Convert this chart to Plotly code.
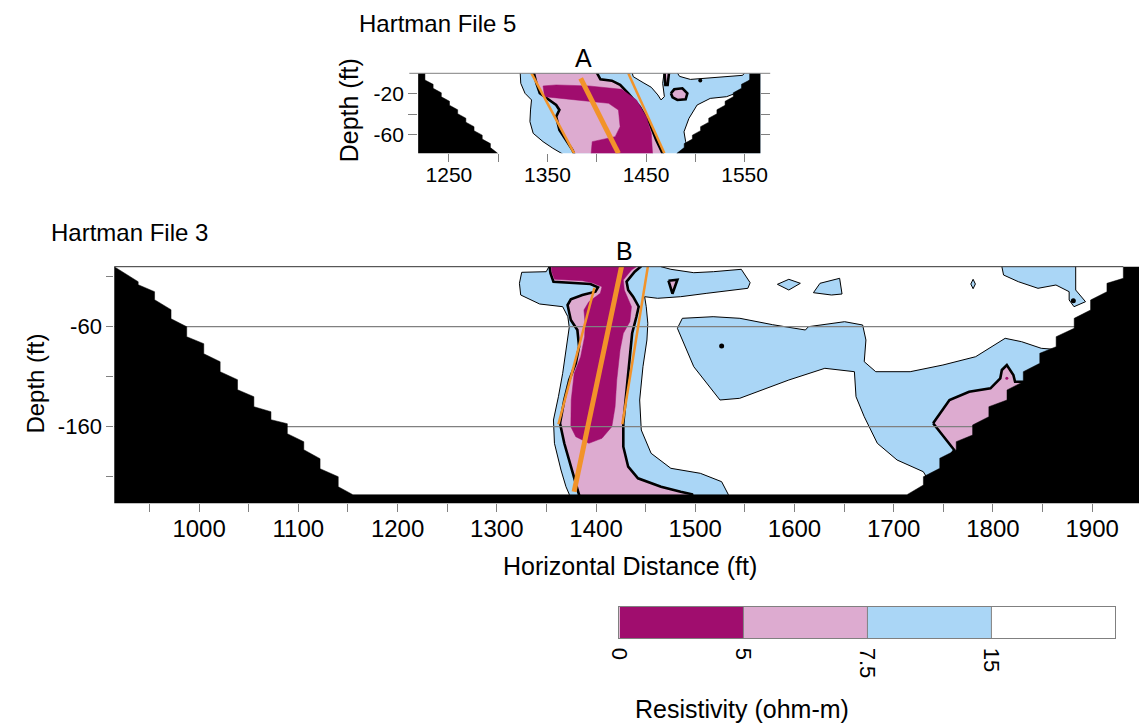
import plotly.graph_objects as go

W, H = 1146, 723
FONT = "Liberation Sans, Arial, sans-serif"

C_PURPLE = "#A00D6E"
C_PINK = "#DDABD0"
C_BLUE = "#AAD6F6"
C_WHITE = "#FFFFFF"
C_ORANGE = "#F2932A"
C_GRAY = "#808080"

# ---------------- legend classes (resistivity, ohm-m) ----------------
res_levels = [0, 5, 7.5, 15]
res_labels = ["0", "5", "7.5", "15"]
res_colors = [C_PURPLE, C_PINK, C_BLUE, C_WHITE]

# ---------------- Hartman File 5 (top section) ----------------
f5_xrange = [1218.8, 1566.0]
f5_yrange = [-78.4, 0.0]
f5_xticks = [1250, 1300, 1350, 1400, 1450, 1500, 1550]
f5_xticklabels = ["1250", "", "1350", "", "1450", "", "1550"]
f5_yticks = [-20, -40, -60]
f5_yticklabels = ["-20", "", "-60"]

# 7.5-15 ohm-m zone
f5_blue_x = [1322.2, 1322.2, 1322.9, 1327.2, 1333.8, 1332.8, 1332.2, 1335.5, 1345.5, 1355.5, 1365.4, 1366.0, 1575.0, 1575.0]
f5_blue_y = [3, 0, -9.8, -19.6, -26.1, -35.9, -47.4, -58.8, -67.0, -73.5, -79.1, -85, -85, 3]
# >15 ohm-m pockets inside the blue zone
f5_white1_x = [1435.3, 1437.0, 1447.0, 1455.3, 1462.0, 1465.2, 1468.6, 1466.9, 1468.6]
f5_white1_y = [3, -3.3, -9.1, -13.7, -21.2, -26.1, -22.9, -9.8, 3]
f5_white2_x = [1480.0, 1484.0, 1495.0, 1510.0, 1530.0, 1548.0, 1552.0]
f5_white2_y = [3, -3.0, -6.0, -5.0, -3.5, -2.0, 3]
f5_white3_x = [1560.0, 1555.1, 1546.7, 1531.8, 1515.1, 1501.8, 1493.5, 1488.5, 1490.2, 1491.9, 1560.0]
f5_white3_y = [-6.6, -6.6, -17.4, -22.9, -24.6, -31.1, -44.2, -57.3, -67.1, -72.0, -72.0]
# 5-7.5 ohm-m zone
f5_pink_x = [1335.5, 1338.8, 1342.2, 1358.8, 1362.1, 1358.8, 1362.1, 1370.4, 1375.4, 1379.5, 1470.0, 1460.3, 1453.6, 1443.6, 1432.0, 1423.7, 1415.3, 1403.7, 1398.7]
f5_pink_y = [3, -9.8, -19.6, -31.0, -35.9, -42.5, -55.5, -67.0, -75.2, -85, -85, -65.4, -49.0, -32.7, -19.6, -11.4, -7.2, -5.9, 3]
f5_pink2_x = [1475.2, 1478.6, 1486.9, 1491.9, 1490.2, 1481.8, 1476.9]
f5_pink2_y = [-19.6, -15.7, -14.7, -19.6, -25.5, -26.1, -23.5]
f5_pink3_x = [1468.6, 1473.6, 1471.9, 1469.6]
f5_pink3_y = [3, 3, -11.4, -11.4]
# 0-5 ohm-m zone
f5_purple_x = [1345.5, 1358.8, 1392.0, 1425.3, 1440.3, 1450.3, 1455.3, 1457.0, 1393.7, 1395.4, 1418.7, 1423.7, 1422.0, 1412.0, 1378.8, 1358.8, 1347.1]
f5_purple_y = [-12.4, -11.4, -12.4, -15.7, -26.1, -42.5, -58.8, -85, -85, -67.0, -62.1, -52.3, -36.0, -29.4, -26.1, -24.5, -22.9]
f5_dot_x = [1505.0]
f5_dot_y = [-7.0]
# blanked (no coverage) zones
f5_mask_left_x = [1210.0, 1225.7, 1225.7, 1234.0, 1234.0, 1242.3, 1242.3, 1250.6, 1250.6, 1258.9, 1258.9, 1267.2, 1267.2, 1275.5, 1275.5, 1283.8, 1283.8, 1292.1, 1292.1, 1299.5, 1299.5, 1210.0]
f5_mask_left_y = [3, 3, -6.6, -10.8, -14.7, -19.1, -23.0, -27.4, -31.3, -35.7, -39.6, -44.0, -47.9, -52.3, -56.2, -60.6, -64.5, -68.9, -72.8, -78.4, -85, -85]
f5_mask_right_x = [1575.0, 1555.1, 1555.1, 1546.8, 1546.8, 1538.5, 1538.5, 1530.2, 1530.2, 1521.9, 1521.9, 1513.6, 1513.6, 1505.3, 1505.3, 1497.0, 1497.0, 1488.7, 1488.7, 1481.3, 1481.3, 1575.0]
f5_mask_right_y = [3, 3, -6.6, -10.8, -14.7, -19.1, -23.0, -27.4, -31.3, -35.7, -39.6, -44.0, -47.9, -52.3, -56.2, -60.6, -64.5, -68.9, -72.8, -78.4, -85, -85]
# interpreted lines
f5_line_left_x = [1333.8, 1377.1]
f5_line_left_y = [0.0, -78.4]
f5_line_mid_x = [1383.7, 1422.0]
f5_line_mid_y = [-4.9, -78.4]
f5_line_right_x = [1432.0, 1468.6]
f5_line_right_y = [0.0, -78.4]

# ---------------- Hartman File 3 (bottom section) ----------------
f3_xrange = [914.5, 1947.2]
f3_yrange = [-236.6, 0.0]
f3_xticks = [950, 1000, 1050, 1100, 1150, 1200, 1250, 1300, 1350, 1400, 1450, 1500, 1550, 1600, 1650, 1700, 1750, 1800, 1850, 1900]
f3_xticklabels = ["", "1000", "", "1100", "", "1200", "", "1300", "", "1400", "", "1500", "", "1600", "", "1700", "", "1800", "", "1900"]
f3_yticks = [-10, -60, -110, -160, -210]
f3_yticklabels = ["", "-60", "", "-160", ""]
f3_grid_depths = [-60, -160]

f3_blue1_x = [1352.5, 1349.8, 1325.1, 1322.8, 1324.1, 1343.2, 1366.4, 1371.6, 1373.0, 1370.3, 1366.4, 1362.1, 1357.1, 1358.1, 1364.7, 1369.7, 1373.0, 1374.0, 1535.0, 1533.2, 1526.6, 1505.1, 1475.4, 1455.5, 1445.6, 1444.0, 1447.3, 1451.3, 1452.2, 1450.6, 1449.0, 1462.1, 1485.3, 1511.7, 1538.1, 1553.0, 1555.3, 1546.4, 1518.3, 1498.5, 1475.4, 1465.5, 1465.5, 1352.5]
f3_blue1_y = [0, -5.0, -5.6, -16.6, -28.3, -37.3, -40.0, -50.0, -60.6, -80.0, -106.6, -130.0, -153.3, -176.6, -203.3, -220.0, -227.6, -232, -232, -227.6, -215.0, -206.6, -201.6, -186.6, -163.3, -133.3, -100.0, -73.3, -56.6, -40.0, -30.0, -31.6, -30.0, -26.6, -23.3, -21.6, -16.0, -2.6, -5.0, -6.0, -2.6, 0, 3, 3]
f3_blue2_x = [1482.0, 1487.0, 1518.0, 1545.0, 1578.0, 1611.0, 1614.0, 1650.5, 1668.7, 1672.0, 1670.3, 1681.9, 1716.6, 1749.6, 1782.6, 1812.3, 1828.9, 1848.7, 1880.0, 1880.0, 1736.0, 1729.8, 1703.4, 1683.5, 1670.3, 1662.0, 1660.4, 1630.6, 1594.3, 1544.8, 1524.9, 1498.5]
f3_blue2_y = [-61.6, -51.6, -50.0, -51.6, -58.0, -63.3, -60.0, -55.0, -58.3, -73.3, -95.0, -105.0, -105.0, -98.3, -90.0, -71.6, -75.0, -81.6, -84.0, -215.0, -215.0, -205.0, -193.3, -176.6, -150.0, -130.0, -105.0, -101.6, -113.3, -131.6, -133.3, -100.0]
f3_blue3_x = [1582.8, 1594.3, 1605.9, 1594.3]
f3_blue3_y = [-17.6, -12.6, -16.6, -23.3]
f3_blue4_x = [1619.1, 1625.7, 1645.5, 1647.9, 1637.3]
f3_blue4_y = [-26.0, -16.6, -11.6, -27.3, -28.3]
f3_blue5_x = [1777.7, 1780.0, 1782.3, 1780.0]
f3_blue5_y = [-17.3, -12.6, -17.3, -22.0]
f3_blue6_x = [1809.0, 1809.0, 1810.7, 1825.6, 1845.4, 1863.5, 1876.8, 1876.8, 1881.7, 1893.3, 1883.4, 1883.4]
f3_blue6_y = [3, 0, -8.3, -15.0, -21.6, -18.3, -25.0, -33.3, -40.0, -35.0, -23.3, 3]

f3_pink1_x = [1353.2, 1354.1, 1357.1, 1373.0, 1394.4, 1402.0, 1399.4, 1386.2, 1374.6, 1371.3, 1374.6, 1381.2, 1382.9, 1379.6, 1373.0, 1368.0, 1363.7, 1368.0, 1374.6, 1379.6, 1382.9, 1384.0, 1498.0, 1496.8, 1485.3, 1465.5, 1442.3, 1432.4, 1427.5, 1427.5, 1430.8, 1434.1, 1436.4, 1440.7, 1443.0, 1437.4, 1432.4, 1430.8, 1439.0, 1445.0, 1445.0, 1353.2]
f3_pink1_y = [0, -6.6, -15.0, -16.0, -17.3, -20.6, -25.0, -28.3, -32.6, -38.3, -53.3, -63.3, -80.0, -96.6, -113.3, -133.3, -156.6, -176.6, -200.0, -216.6, -227.6, -232, -232, -227.6, -225.0, -220.0, -211.6, -200.0, -180.0, -156.6, -123.3, -90.0, -66.6, -50.0, -40.0, -30.0, -23.3, -15.0, -5.0, 0, 3, 3]
f3_pink2_x = [1739.7, 1756.2, 1776.0, 1797.5, 1807.4, 1809.0, 1814.0, 1820.6, 1822.3, 1860.0, 1860.0, 1750.0, 1761.0]
f3_pink2_y = [-156.6, -133.3, -125.0, -121.6, -111.6, -103.3, -98.3, -108.3, -115.0, -115.0, -200.0, -200.0, -183.3]
f3_pink3_x = [1473.0, 1482.0, 1477.0]
f3_pink3_y = [-14.0, -13.0, -27.0]

f3_purple_x = [1354.8, 1355.8, 1358.1, 1386.2, 1396.1, 1406.0, 1404.3, 1392.8, 1387.8, 1389.0, 1388.5, 1384.5, 1378.0, 1375.0, 1374.6, 1379.6, 1392.8, 1406.0, 1415.9, 1419.2, 1420.9, 1424.2, 1427.5, 1434.1, 1435.7, 1432.4, 1428.5, 1427.5, 1435.7, 1440.7, 1440.7, 1354.8]
f3_purple_y = [0, -6.6, -12.6, -14.0, -16.0, -20.0, -26.6, -35.0, -43.3, -56.6, -70.0, -90.0, -106.6, -133.3, -160.0, -170.0, -176.6, -171.6, -160.0, -140.0, -113.3, -83.3, -66.6, -55.0, -40.0, -31.6, -23.3, -13.3, -3.3, 0, 3, 3]
f3_dot_x = [1526.6, 1881.0]
f3_dot_y = [-79.3, -34.0]
f3_pdot_x = [1814.0]
f3_pdot_y = [-111.6]

f3_mask_x = ([905.0, 914.5, 938.6, 938.6, 955.1, 955.1, 971.7, 971.7, 987.5, 987.5, 1004.7, 1004.7, 1021.2, 1021.2,
              1038.7, 1038.7, 1055.2, 1055.2, 1072.4, 1072.4, 1088.9, 1088.9, 1105.5, 1105.5, 1121.9, 1121.9, 1140.2, 1140.2, 1155.0]
             + [1713.4, 1729.9, 1729.9, 1746.4, 1746.4, 1763.0, 1763.0, 1779.5, 1779.5, 1795.9, 1795.9, 1814.2, 1814.2,
                1830.6, 1830.6, 1847.2, 1847.2, 1863.7, 1863.7, 1881.9, 1881.9, 1898.4, 1898.4, 1914.9, 1914.9, 1931.4, 1931.4, 1931.4]
             + [1960.0, 1960.0, 905.0])
f3_mask_y = ([3, 0, -15, -18, -25, -33, -43, -52, -60, -70, -77, -87, -95, -105, -113, -123, -130, -140, -145, -153,
              -157, -167, -175, -183, -192, -202, -210, -220, -228]
             + [-228, -218.3, -210, -201.6, -191.6, -183.3, -175, -168.3, -158.3, -150, -140, -133.3, -123.3, -115, -105,
                -96.6, -86.6, -80, -70, -61.6, -51.6, -43.3, -33.3, -25, -16.6, -11.6, 0, 3]
             + [3, -245, -245])

f3_line_mid_x = [1425.8, 1377.9]
f3_line_mid_y = [0.7, -225.0]
f3_line_left_x = [1398.4, 1362.1]
f3_line_left_y = [-21.0, -157.6]
f3_line_right_x = [1452.2, 1426.5]
f3_line_right_y = [0.0, -157.6]

# ---------------- layout geometry (pixels) ----------------
def px_x(p):
    return p / W

def px_y(p):
    return 1 - p / H

dom5_x = [px_x(413), px_x(761)]
dom5_y = [px_y(153.3), px_y(73.3)]
dom3_x = [px_x(104), 1.0]
dom3_y = [px_y(503.3), px_y(266.7)]
domc_x = [px_x(617.7), px_x(1122)]
domc_y = [px_y(638.3), px_y(606.7)]

fig = go.Figure()


def poly(x, y, xa, ya, color, lw=0.0, lc="black"):
    fig.add_trace(go.Scatter(
        x=x + [x[0]], y=y + [y[0]], xaxis=xa, yaxis=ya, mode="lines",
        fill="toself", fillcolor=color,
        line=dict(color=lc if lw > 0 else color, width=lw if lw > 0 else 0.5),
        hoverinfo="skip", showlegend=False))


def seg(x, y, xa, ya, color, w):
    fig.add_trace(go.Scatter(x=x, y=y, xaxis=xa, yaxis=ya, mode="lines",
                             line=dict(color=color, width=w), hoverinfo="skip", showlegend=False))


def dots(x, y, xa, ya, color, size):
    fig.add_trace(go.Scatter(x=x, y=y, xaxis=xa, yaxis=ya, mode="markers",
                             marker=dict(color=color, size=size), hoverinfo="skip", showlegend=False))


THIN, THICK = 1.0, 2.6

# ---- top section
poly(f5_blue_x, f5_blue_y, "x", "y", C_BLUE, THIN)
poly(f5_white1_x, f5_white1_y, "x", "y", C_WHITE, THIN)
poly(f5_white2_x, f5_white2_y, "x", "y", C_WHITE, THIN)
poly(f5_white3_x, f5_white3_y, "x", "y", C_WHITE, THIN)
poly(f5_pink_x, f5_pink_y, "x", "y", C_PINK, THICK)
poly(f5_pink2_x, f5_pink2_y, "x", "y", C_PINK, THICK)
poly(f5_pink3_x, f5_pink3_y, "x", "y", C_PINK, THICK)
poly(f5_purple_x, f5_purple_y, "x", "y", C_PURPLE)
dots(f5_dot_x, f5_dot_y, "x", "y", "black", 4)
poly(f5_mask_left_x, f5_mask_left_y, "x", "y", "black")
poly(f5_mask_right_x, f5_mask_right_y, "x", "y", "black")
seg(f5_line_left_x, f5_line_left_y, "x", "y", C_ORANGE, 2.5)
seg(f5_line_mid_x, f5_line_mid_y, "x", "y", C_ORANGE, 5)
seg(f5_line_right_x, f5_line_right_y, "x", "y", C_ORANGE, 2.5)

# ---- bottom section
poly(f3_blue1_x, f3_blue1_y, "x2", "y2", C_BLUE, THIN)
poly(f3_blue2_x, f3_blue2_y, "x2", "y2", C_BLUE, THIN)
poly(f3_blue3_x, f3_blue3_y, "x2", "y2", C_BLUE, THIN)
poly(f3_blue4_x, f3_blue4_y, "x2", "y2", C_BLUE, THIN)
poly(f3_blue5_x, f3_blue5_y, "x2", "y2", C_BLUE, THIN)
poly(f3_blue6_x, f3_blue6_y, "x2", "y2", C_BLUE, THIN)
poly(f3_pink1_x, f3_pink1_y, "x2", "y2", C_PINK, THICK)
poly(f3_pink2_x, f3_pink2_y, "x2", "y2", C_PINK, THICK)
poly(f3_pink3_x, f3_pink3_y, "x2", "y2", C_PINK, THICK)
poly(f3_purple_x, f3_purple_y, "x2", "y2", C_PURPLE)
dots(f3_dot_x, f3_dot_y, "x2", "y2", "black", 5)
dots(f3_pdot_x, f3_pdot_y, "x2", "y2", C_PURPLE, 3)
for g in f3_grid_depths:
    seg(f3_xrange, [g, g], "x2", "y2", C_GRAY, 1.2)
poly(f3_mask_x, f3_mask_y, "x2", "y2", "black")
seg(f3_line_left_x, f3_line_left_y, "x2", "y2", C_ORANGE, 2.5)
seg(f3_line_mid_x, f3_line_mid_y, "x2", "y2", C_ORANGE, 5)
seg(f3_line_right_x, f3_line_right_y, "x2", "y2", C_ORANGE, 2.5)

# ---- legend bar
n = len(res_levels)
cs = []
for i, c in enumerate(res_colors):
    cs.append([i / n, c])
    cs.append([(i + 1) / n, c])
fig.add_trace(go.Heatmap(
    z=[list(range(n))], x=list(range(n + 1)), y=[0, 1],
    zmin=-0.5, zmax=n - 0.5, colorscale=cs, showscale=False,
    xaxis="x3", yaxis="y3", hoverinfo="skip"))

axis_common = dict(showgrid=False, zeroline=False, showline=False, ticks="outside",
                   tickcolor=C_GRAY, tickwidth=1)

fig.update_layout(
    width=W, height=H,
    margin=dict(l=0, r=0, t=0, b=0),
    paper_bgcolor="white", plot_bgcolor="white",
    font=dict(family=FONT, color="black"),
    showlegend=False,
    xaxis=dict(domain=dom5_x, anchor="y", range=f5_xrange, tickvals=f5_xticks, ticktext=f5_xticklabels,
               ticklen=8, tickfont=dict(size=21), ticklabelstandoff=-6, **axis_common),
    yaxis=dict(domain=dom5_y, anchor="x", range=f5_yrange, tickvals=f5_yticks, ticktext=f5_yticklabels,
               ticklen=9, mirror="ticks", tickfont=dict(size=21), **axis_common),
    xaxis2=dict(domain=dom3_x, anchor="y2", range=f3_xrange, tickvals=f3_xticks, ticktext=f3_xticklabels,
                ticklen=8, tickfont=dict(size=24), ticklabelstandoff=-4, **axis_common),
    yaxis2=dict(domain=dom3_y, anchor="x2", range=f3_yrange, tickvals=f3_yticks, ticktext=f3_yticklabels,
                ticklen=7, tickfont=dict(size=22), **axis_common),
    xaxis3=dict(domain=domc_x, anchor="y3", range=[0, n], tickvals=list(range(n)), ticktext=res_labels,
                tickangle=90, ticks="", showgrid=False, zeroline=False, showline=True, mirror=True,
                linecolor=C_GRAY, linewidth=1, tickfont=dict(size=22), ticklabelstandoff=4),
    yaxis3=dict(domain=domc_y, anchor="x3", range=[0, 1], showticklabels=False, ticks="", showgrid=False,
                zeroline=False, showline=True, mirror=True, linecolor=C_GRAY, linewidth=1),
)

shapes = []
# separators in the legend bar
for i in range(1, n):
    shapes.append(dict(type="line", xref="x3", yref="y3", x0=i, x1=i, y0=0, y1=1,
                       line=dict(color=C_GRAY, width=1), layer="above"))
# top frame lines of the two sections
shapes.append(dict(type="line", xref="paper", yref="paper", x0=px_x(404), x1=px_x(771),
                   y0=dom5_y[1], y1=dom5_y[1], line=dict(color=C_GRAY, width=1), layer="above"))
shapes.append(dict(type="line", xref="paper", yref="paper", x0=dom3_x[0], x1=px_x(1130),
                   y0=dom3_y[1], y1=dom3_y[1], line=dict(color="#303030", width=1), layer="above"))
fig.update_layout(shapes=shapes)

ann = [
    dict(text="Hartman File 5", x=px_x(351), y=px_y(23), xanchor="left", yanchor="middle", font=dict(size=24)),
    dict(text="Hartman File 3", x=px_x(38), y=px_y(232.5), xanchor="left", yanchor="middle", font=dict(size=24)),
    dict(text="Depth (ft)", x=px_x(343), y=px_y(110), textangle=-90, xanchor="center", yanchor="middle", font=dict(size=25)),
    dict(text="Depth (ft)", x=px_x(23), y=px_y(384), textangle=-90, xanchor="center", yanchor="middle", font=dict(size=24)),
    dict(text="Horizontal Distance (ft)", x=px_x(628), y=px_y(566), xanchor="center", yanchor="middle", font=dict(size=25)),
    dict(text="Resistivity (ohm-m)", x=px_x(742), y=px_y(709), xanchor="center", yanchor="middle", font=dict(size=25)),
    dict(text="A", x=px_x(580.8), y=px_y(58.3), xanchor="center", yanchor="middle", font=dict(size=25)),
    dict(text="B", x=px_x(623.3), y=px_y(251), xanchor="center", yanchor="middle", font=dict(size=25)),
]
for a in ann:
    a.update(xref="paper", yref="paper", showarrow=False)
fig.update_layout(annotations=ann)

fig.write_html("out.html")
